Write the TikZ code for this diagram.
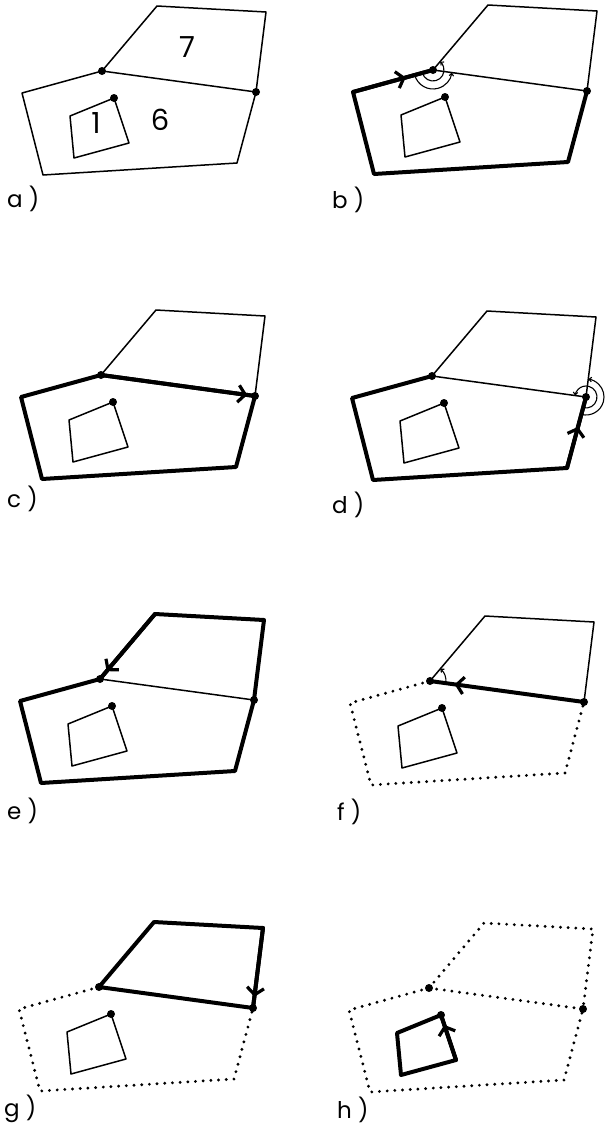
\documentclass[tikz,border=0pt]{standalone}
\usepackage{fontspec}
\setmainfont{Poppins}
\usetikzlibrary{arrows.meta,calc,decorations.markings}

\newcommand{\placeverts}{%
  \coordinate (P1) at (157,-6);
  \coordinate (P2) at (266,-12);
  \coordinate (B)  at (256,-92);
  \coordinate (A)  at (102,-71);
  \coordinate (L1) at (22,-93);
  \coordinate (L2) at (43,-175);
  \coordinate (L3) at (237,-163);
  \coordinate (H1) at (114,-98);
  \coordinate (H2) at (70,-116);
  \coordinate (H3) at (74,-158);
  \coordinate (H4) at (129,-143);}
\newcommand{\vertdots}{%
  \fill (A) circle (4);
  \fill (B) circle (4);
  \fill (H1) circle (4);}

\tikzset{
  thinedge/.style={line width=1.5pt, line join=round},
  thickedge/.style={line width=4pt, line join=round, line cap=round},
  dotedge/.style={line width=3.2pt, line cap=round, dash pattern=on 0pt off 7.7pt},
  chev/.style={postaction={decorate}, decoration={markings,
    mark=at position #1 with {\arrow{Straight Barb[length=7pt,width=17pt,line width=3.2pt]}}}},
  anglearc/.style={line width=1.1pt, -{Straight Barb[length=2.5pt,width=4.5pt]}},
  digit/.style={font=\fontsize{29}{31}\selectfont, inner sep=0pt},
  panellabel/.style={font=\fontsize{23}{25}\selectfont, anchor=base west, inner sep=0pt}
}

\begin{document}
\begin{tikzpicture}[x=1pt,y=1pt]
\useasboundingbox (0,0) rectangle (606,-1125);

\begin{scope}[shift={(0,0)}]
\placeverts
\draw[thinedge] (A) -- (P1) -- (P2) -- (B) -- cycle;
\draw[thinedge] (A) -- (L1) -- (L2) -- (L3) -- (B);
\draw[thinedge] (H1) -- (H2) -- (H3) -- (H4) -- cycle;
\vertdots
\node[digit] (face7) at (187,-47) {7};
\node[digit] (face6) at (160,-120) {6};
\node[digit] (face1) at (96,-123) {1};
\end{scope}

\begin{scope}[shift={(331,1)}]
\placeverts
\draw[thinedge] (A) -- (P1) -- (P2) -- (B) -- cycle;
\draw[thickedge] (A) -- (L1) -- (L2) -- (L3) -- (B);
\draw[thickedge, chev=0.66] (L1) -- (A);
\draw[thinedge] (H1) -- (H2) -- (H3) -- (H4) -- cycle;
\vertdots
\draw[anglearc] ($(A)+(195.4:11)$) arc[start angle=195.4, end angle=409.8, radius=11];
\draw[anglearc] ($(A)+(195.4:19)$) arc[start angle=195.4, end angle=352.2, radius=19];
\end{scope}

\begin{scope}[shift={(-1,-304)}]
\placeverts
\draw[thinedge] (A) -- (P1) -- (P2) -- (B);
\draw[thickedge] (B) -- (A) -- (L1) -- (L2) -- (L3) -- cycle;
\draw[thickedge, chev=0.95] (A) -- (B);
\draw[thinedge] (H1) -- (H2) -- (H3) -- (H4) -- cycle;
\vertdots
\end{scope}

\begin{scope}[shift={(330,-305)}]
\placeverts
\draw[thinedge] (A) -- (P1) -- (P2) -- (B) -- cycle;
\draw[thickedge] (A) -- (L1) -- (L2) -- (L3) -- (B);
\draw[thickedge, chev=0.58] (L3) -- (B);
\draw[thinedge] (H1) -- (H2) -- (H3) -- (H4) -- cycle;
\vertdots
\draw[anglearc] ($(B)+(255:11)$) arc[start angle=255, end angle=532.2, radius=11];
\draw[anglearc] ($(B)+(255:18)$) arc[start angle=255, end angle=442.9, radius=18];
\end{scope}

\begin{scope}[shift={(-2,-608)}]
\placeverts
\draw[thinedge] (A) -- (B);
\draw[thickedge] (A) -- (P1) -- (P2) -- (B) -- (L3) -- (L2) -- (L1) -- cycle;
\draw[thickedge, chev=0.88] (P1) -- (A);
\draw[thinedge] (H1) -- (H2) -- (H3) -- (H4) -- cycle;
\vertdots
\end{scope}

\begin{scope}[shift={(328,-610)}]
\placeverts
\draw[thinedge] (A) -- (P1) -- (P2) -- (B);
\draw[dotedge] (A) -- (L1) -- (L2) -- (L3) -- (B);
\draw[thickedge, chev=0.84] (B) -- (A);
\draw[thinedge] (H1) -- (H2) -- (H3) -- (H4) -- cycle;
\vertdots
\draw[anglearc] ($(A)+(-7.8:16)$) arc[start angle=-7.8, end angle=49.8, radius=16];
\end{scope}

\begin{scope}[shift={(-3,-916)}]
\placeverts
\draw[dotedge] (A) -- (L1) -- (L2) -- (L3) -- (B);
\draw[thickedge] (A) -- (P1) -- (P2) -- (B) -- cycle;
\draw[thickedge, chev=0.86] (P2) -- (B);
\draw[thinedge] (H1) -- (H2) -- (H3) -- (H4) -- cycle;
\vertdots
\end{scope}

\begin{scope}[shift={(327,-917)}]
\placeverts
\draw[dotedge] (A) -- (P1) -- (P2) -- (B);
\draw[dotedge] (A) -- (B);
\draw[dotedge] (A) -- (L1) -- (L2) -- (L3) -- (B);
\draw[thickedge] (H1) -- (H2) -- (H3) -- (H4) -- cycle;
\draw[thickedge, chev=0.78] (H4) -- (H1);
\vertdots
\end{scope}

\node[panellabel] (lab-a) at (7,-207) {a )};
\node[panellabel] (lab-b) at (332,-208) {b )};
\node[panellabel] (lab-c) at (7,-507) {c )};
\node[panellabel] (lab-d) at (332,-513) {d )};
\node[panellabel] (lab-e) at (7,-819) {e )};
\node[panellabel] (lab-f) at (337,-820) {f )};
\node[panellabel] (lab-g) at (4,-1116) {g )};
\node[panellabel] (lab-h) at (337,-1118) {h )};
\end{tikzpicture}
\end{document}
